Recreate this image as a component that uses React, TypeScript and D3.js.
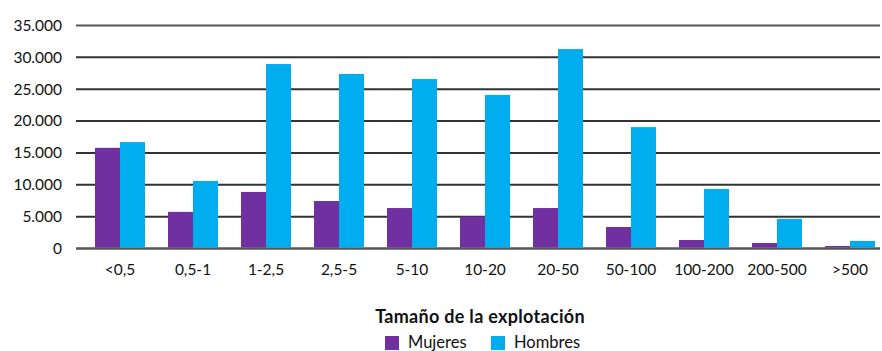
import React from "react";
import * as d3 from "d3";

const categories = ["<0,5", "0,5-1", "1-2,5", "2,5-5", "5-10", "10-20", "20-50", "50-100", "100-200", "200-500", ">500"];
const mujeres = [15800, 5750, 8880, 7450, 6350, 5000, 6350, 3370, 1330, 860, 390];
const hombres = [16700, 10600, 28950, 27400, 26600, 24100, 31300, 19050, 9350, 4650, 1180];
const yTicks = [0, 5000, 10000, 15000, 20000, 25000, 30000, 35000];
const seriesNames = ["Mujeres", "Hombres"];
const colors = ["#7030A0", "#00AEEF"];
const axisTitle = "Tamaño de la explotación";

const W = 882;
const H = 351;
const FONT = "Lato, 'Open Sans', sans-serif";

export default function App() {
  const y = d3.scaleLinear().domain([0, 35000]).range([248.5, 25.5]);
  const x = d3.scaleBand<string>().domain(categories).range([83.5, 886.5]).padding(0);
  const inner = d3.scaleBand<string>().domain(seriesNames).range([-25, 25]).padding(0);
  const fmt = (v: number) => d3.format(",")(v).replace(/,/g, ".");
  const series = [mujeres, hombres];

  return (
    <svg width={W} height={H} style={{ position: "absolute", left: 0, top: 0, fontFamily: FONT }}>
      {yTicks.map((t) => (
        <g key={t}>
          <line
            x1={76}
            x2={880}
            y1={y(t)}
            y2={y(t)}
            stroke={t === 0 || t === 35000 ? "#555" : "#333"}
            strokeWidth={t === 0 ? 2.5 : 2}
          />
          <text x={62} y={y(t)} dy="0.35em" textAnchor="end" fontSize={15.5} fill="#111">
            {fmt(t)}
          </text>
        </g>
      ))}
      {categories.map((c, i) => {
        const cx = (x(c) as number) + x.bandwidth() / 2;
        return (
          <g key={c}>
            {series.map((s, j) => (
              <rect
                key={j}
                x={cx + (inner(seriesNames[j]) as number)}
                width={inner.bandwidth()}
                y={y(s[i])}
                height={y(0) - y(s[i]) - 1}
                fill={colors[j]}
              />
            ))}
            <text x={cx} y={275} textAnchor="middle" fontSize={15.5} fill="#111">
              {c}
            </text>
          </g>
        );
      })}
      <text x={480} y={323} textAnchor="middle" fontSize={18} fontWeight="bold" fill="#111" letterSpacing={0.3}>
        {axisTitle}
      </text>
      {seriesNames.map((n, j) => {
        const lx = j === 0 ? 385 : 491;
        return (
          <g key={n}>
            <rect x={lx} y={336} width={14} height={14} fill={colors[j]} />
            <text x={lx + 23} y={348} fontSize={16.5} fill="#111">
              {n}
            </text>
          </g>
        );
      })}
    </svg>
  );
}
